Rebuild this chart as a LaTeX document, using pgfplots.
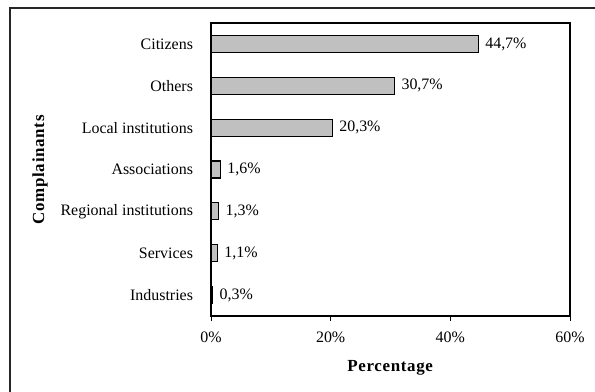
\documentclass[border=0pt]{standalone}
\usepackage{pgfplots}
\pgfplotsset{compat=1.18}
\usepackage{fontspec}
\setmainfont{Liberation Serif}
\begin{document}
\fontsize{16}{18}\selectfont
\begin{tikzpicture}
\useasboundingbox (0,0) rectangle (595bp,-392bp);
\draw[line width=1.2bp, black!85] (10bp,-395bp) -- (10bp,-8bp) -- (598bp,-8bp);
\begin{axis}[
  at={(211bp,-316bp)}, anchor=south west,
  scale only axis, width=359bp, height=293bp,
  xbar, bar width=17bp,
  xmin=0, xmax=60, ymin=-0.5, ymax=6.5,
  y dir=reverse,
  xtick={0,20,40,60},
  xticklabel={\pgfmathprintnumber{\tick}\%},
  /pgf/number format/assume math mode=true,
  ytick={0,...,6},
  yticklabels={Citizens,Others,Local institutions,Associations,Regional institutions,Services,Industries},
  minor ytick={-0.5,0.5,...,6.5},
  ytick style={draw=none},
  minor tick length=4.5bp,
  major tick length=4.5bp,
  tick align=outside,
  xtick pos=bottom, ytick pos=left,
  every tick/.style={black, line width=1bp},
  minor tick style={black, line width=1bp},
  axis line style={black, line width=1.2bp},
  yticklabel style={anchor=east, xshift=-8bp, font=\fontsize{16}{18}\selectfont},
  xticklabel style={yshift=-6bp, font=\fontsize{16}{18}\selectfont},
  xlabel={\textbf{Percentage}},
  ylabel={\textbf{Complainants}},
  xlabel style={at={(axis description cs:0.5,-0.178)}, anchor=center, font=\fontsize{17}{19}\selectfont\addfontfeatures{LetterSpace=4}},
  ylabel style={at={(axis description cs:-0.476,0.5)}, anchor=center, rotate=0, font=\fontsize{17}{19}\selectfont\addfontfeatures{LetterSpace=4}},
  nodes near coords={\pgfmathprintnumber[fixed,precision=1,fixed zerofill,use comma]{\pgfplotspointmeta}\%},
  nodes near coords align={horizontal},
  every node near coord/.append style={font=\fontsize{16}{18}\selectfont, anchor=west, xshift=1bp},
  clip=false,
]
\addplot[fill={rgb,255:red,192;green,192;blue,192}, draw=black, line width=1.1bp]
  coordinates {(44.7,0) (30.7,1) (20.3,2) (1.6,3) (1.3,4) (1.1,5) (0.3,6)};
\end{axis}
\end{tikzpicture}
\end{document}
